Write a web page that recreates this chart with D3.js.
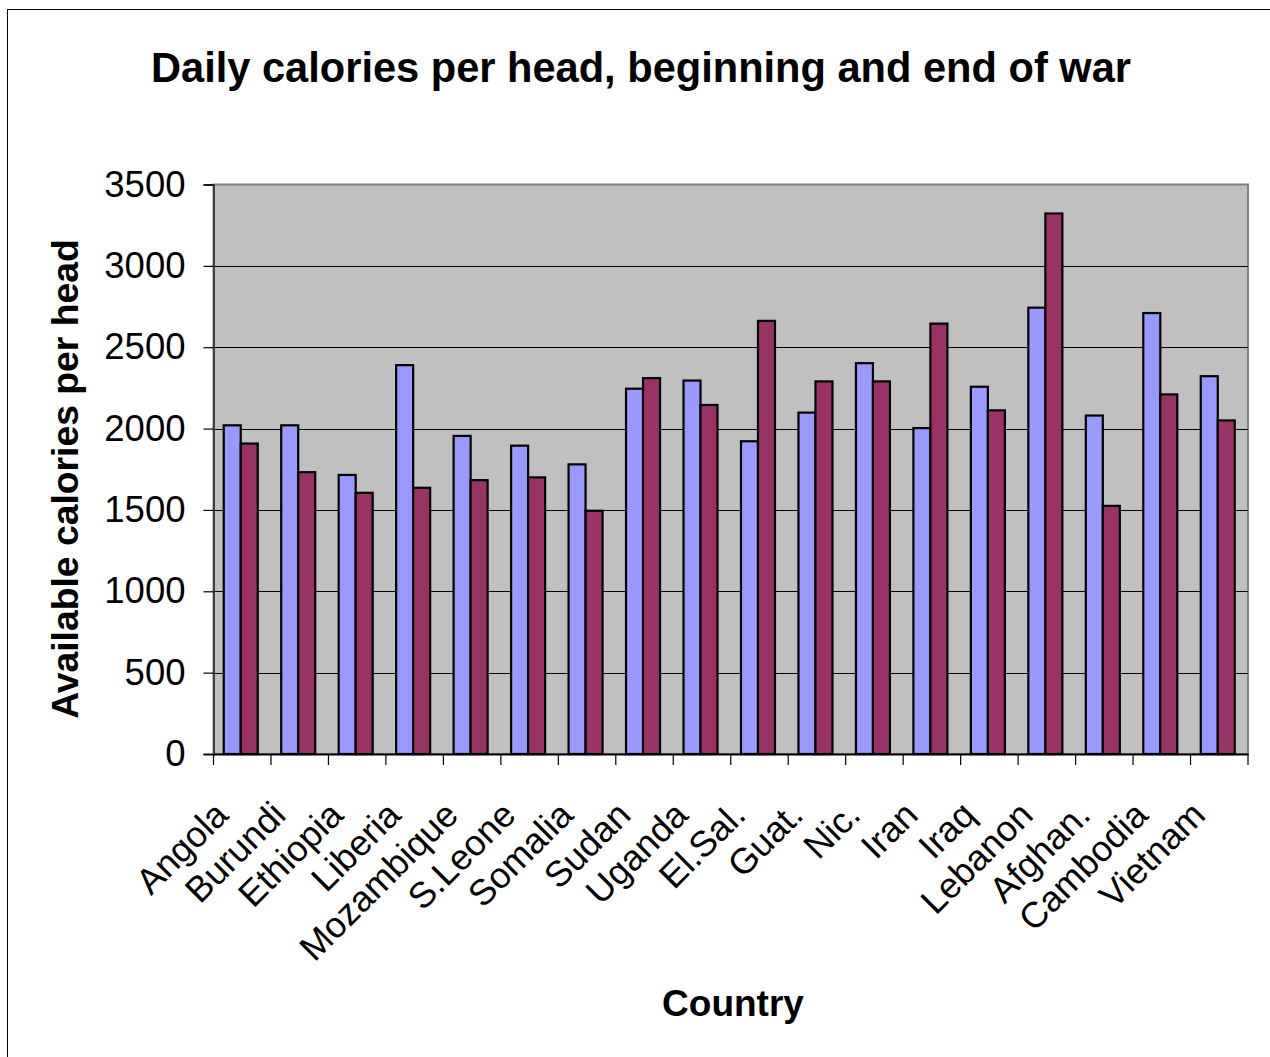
<!DOCTYPE html>
<html>
<head>
<meta charset="utf-8">
<script src="https://cdn.jsdelivr.net/npm/d3@7"></script>
<style>
  html, body { margin: 0; padding: 0; background: #fff; }
  text { font-family: "Liberation Sans", Arial, sans-serif; fill: #000; }
</style>
</head>
<body>
<svg id="chart" width="1270" height="1057"></svg>
<script>
const categories = ["Angola","Burundi","Ethiopia","Liberia","Mozambique","S.Leone","Somalia","Sudan","Uganda","El.Sal.","Guat.","Nic.","Iran","Iraq","Lebanon","Afghan.","Cambodia","Vietnam"];
const seriesNames = ["Beginning of war","End of war"];
const beginningValues = [2020,2020,1715,2390,1955,1895,1780,2245,2295,1922,2098,2402,2003,2257,2743,2080,2710,2322];
const endValues = [1908,1732,1605,1636,1683,1700,1495,2310,2145,2662,2290,2290,2645,2112,3322,1525,2210,2050];
const yTicks = [0,500,1000,1500,2000,2500,3000,3500];
const colors = ["#9999FF","#993366"];

const svg = d3.select("#chart");
const plot = {left: 213.5, right: 1248, top: 184.5, bottom: 754};

// outer chart border
svg.append("rect").attr("x",7.5).attr("y",9.5).attr("width",1280).attr("height",1070)
  .attr("fill","#fff").attr("stroke","#000").attr("stroke-width",1);

const x0 = d3.scaleBand().domain(categories).range([plot.left, plot.right]).padding(0);
const x1 = d3.scaleBand().domain(seriesNames).range([-1.5, x0.bandwidth()-1.5]).paddingInner(0).paddingOuter(0.69);
const y = d3.scaleLinear().domain([0,3500]).range([plot.bottom, plot.top]);

// plot background
svg.append("rect").attr("x",plot.left).attr("y",plot.top)
  .attr("width",plot.right-plot.left).attr("height",plot.bottom-plot.top)
  .attr("fill","#C0C0C0").attr("stroke","#808080").attr("stroke-width",2);

// gridlines
svg.append("g").selectAll("line").data(yTicks.filter(t=>t>0 && t<3500)).join("line")
  .attr("x1",plot.left).attr("x2",plot.right)
  .attr("y1",d=>Math.round(y(d))+0.5).attr("y2",d=>Math.round(y(d))+0.5)
  .attr("stroke","#000").attr("stroke-width",1);

// bars
const data = categories.map((c,i)=>({cat:c, vals:[beginningValues[i], endValues[i]]}));
const groups = svg.append("g").selectAll("g").data(data).join("g")
  .attr("transform", d=>`translate(${x0(d.cat)},0)`);
groups.selectAll("rect").data(d=>d.vals.map((v,j)=>({s:seriesNames[j], v, j}))).join("rect")
  .attr("x", d=>x1(d.s)).attr("width", x1.bandwidth())
  .attr("y", d=>y(d.v)).attr("height", d=>plot.bottom - y(d.v))
  .attr("fill", d=>colors[d.j]).attr("stroke","#000").attr("stroke-width",2.2);

// y axis
const yAxis = d3.axisLeft(y).tickValues(yTicks).tickSize(10).tickPadding(18).tickFormat(d3.format("d"));
const gy = svg.append("g").attr("transform",`translate(${plot.left},0)`).call(yAxis);
gy.select(".domain").attr("stroke","#404040").attr("stroke-width",2);
gy.selectAll(".tick line").attr("stroke","#000").attr("stroke-width",1.2);
gy.selectAll(".tick text").attr("font-size",36.5).attr("font-family","'Liberation Sans', Arial, sans-serif").attr("fill","#000");

// x axis
const gx = svg.append("g").attr("transform",`translate(0,${plot.bottom})`)
  .call(d3.axisBottom(x0).tickSize(0).tickFormat(""));
gx.select(".domain").attr("stroke","#000").attr("stroke-width",2);
// category separator ticks
const bounds = categories.map(c=>x0(c)).concat([plot.right]);
svg.append("g").selectAll("line").data(bounds).join("line")
  .attr("x1",d=>d).attr("x2",d=>d).attr("y1",plot.bottom).attr("y2",plot.bottom+11)
  .attr("stroke","#000").attr("stroke-width",1.2);

// x labels rotated
svg.append("g").selectAll("text").data(categories).join("text")
  .attr("transform", d=>`translate(${x0(d)+x0.bandwidth()/2-12},${plot.bottom+63}) rotate(-45)`)
  .attr("text-anchor","end").attr("font-size",36).text(d=>d);

// title
svg.append("text").attr("x",641).attr("y",82).attr("text-anchor","middle")
  .attr("font-size",41.6).attr("font-weight","bold").text("Daily calories per head, beginning and end of war");

// axis titles
svg.append("text").attr("x",733).attr("y",1016).attr("text-anchor","middle")
  .attr("font-size",37).attr("font-weight","bold").text("Country");
svg.append("text").attr("transform","translate(78,479) rotate(-90)").attr("text-anchor","middle")
  .attr("font-size",37.3).attr("font-weight","bold").text("Available calories per head");
</script>
</body>
</html>
